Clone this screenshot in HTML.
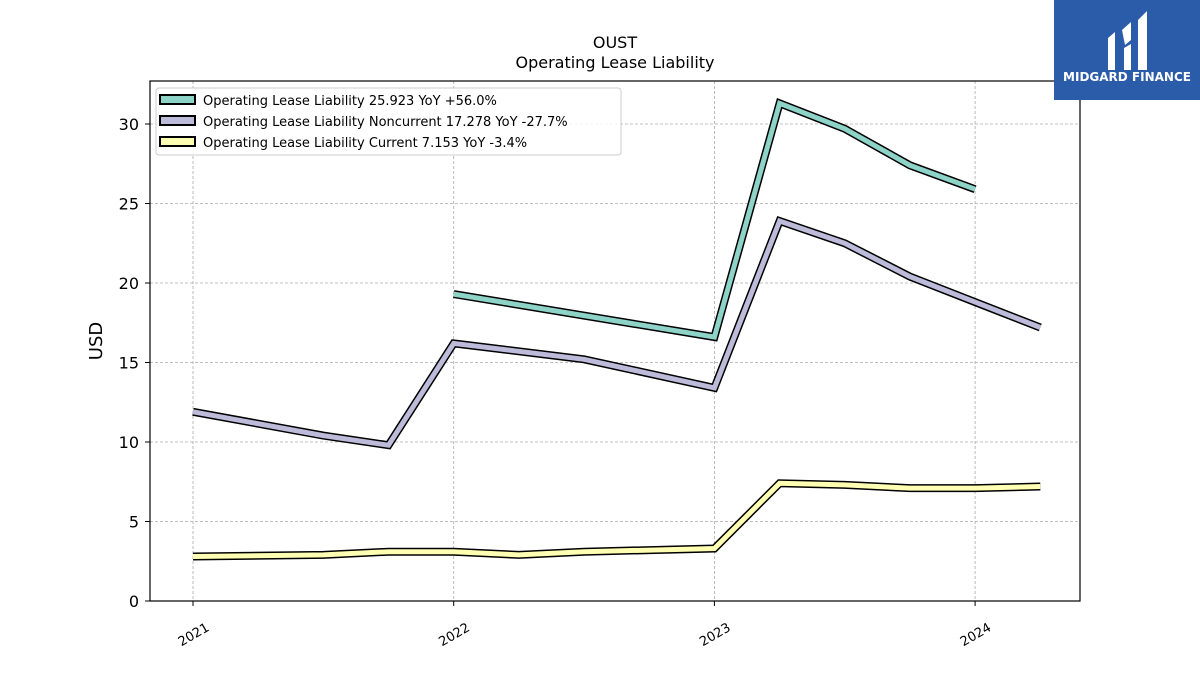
<!DOCTYPE html>
<html><head><meta charset="utf-8"><style>
body{margin:0;background:#fff;width:1200px;height:675px;overflow:hidden;font-family:"Liberation Sans","DejaVu Sans",sans-serif}
</style></head><body>
<svg id="chart" width="1200" height="675" xmlns="http://www.w3.org/2000/svg" font-family="DejaVu Sans, Liberation Sans, sans-serif">
<text x="615" y="48" text-anchor="middle" font-size="16">OUST</text>
<text x="615" y="68" text-anchor="middle" font-size="16">Operating Lease Liability</text>
<g id="grid"></g>
<g id="series"></g>
<rect x="150" y="81" width="930" height="520" fill="none" stroke="#000" stroke-width="1.2"/>
<g id="axes"></g>
<text transform="translate(102,341) rotate(-90)" text-anchor="middle" font-size="18">USD</text>
<g>
<rect x="156" y="88" width="465" height="67" rx="3" fill="#fff" fill-opacity="0.85" stroke="#ccc"/>
<g><rect x="160" y="95" width="35" height="9" fill="#8dd3c7" stroke="#000" stroke-width="2"/><text x="203" y="105" font-size="13">Operating Lease Liability  25.923 YoY +56.0%</text></g>
<g><rect x="160" y="116" width="35" height="9" fill="#bebada" stroke="#000" stroke-width="2"/><text x="203" y="126" font-size="13">Operating Lease Liability Noncurrent  17.278 YoY -27.7%</text></g>
<g><rect x="160" y="137" width="35" height="9" fill="#ffffb3" stroke="#000" stroke-width="2"/><text x="203" y="147" font-size="13">Operating Lease Liability Current  7.153 YoY -3.4%</text></g>
</g>
<g>
<rect x="1054" y="0" width="146" height="100" fill="#2a5caa"/>
<path d="M1108 38 L1115 32 L1115 70 L1108 70 Z M1122 30 L1131 22 L1131 40 L1125 45 Z M1124 48 L1131 44 L1131 70 L1124 70 Z M1138 20 L1147 11 L1147 70 L1138 70 Z" fill="#fff"/>
<text x="1127" y="81" text-anchor="middle" font-size="12" font-weight="bold" fill="#fff">MIDGARD FINANCE</text>
</g>
</svg>
<script>
const yTicks=[0,5,10,15,20,25,30];
const xTickYears=[2021,2022,2023,2024];
const totalX=[2022.0,2023.0,2023.25,2023.5,2023.75,2024.0];
const totalY=[19.3,16.6,31.3,29.7,27.4,25.9];
const noncurX=[2021.0,2021.5,2021.75,2022.0,2022.5,2023.0,2023.25,2023.5,2023.75,2024.0,2024.25];
const noncurY=[11.9,10.4,9.8,16.2,15.2,13.4,23.9,22.5,20.4,18.8,17.2];
const curX=[2021.0,2021.5,2021.75,2022.0,2022.25,2022.5,2023.0,2023.25,2023.5,2023.75,2024.0,2024.25];
const curY=[2.8,2.9,3.1,3.1,2.9,3.1,3.3,7.4,7.3,7.1,7.1,7.2];
const NS="http://www.w3.org/2000/svg";
function xs(v){return 193+(v-2021)*260.7;}
function ys(v){return 601-v*15.9;}
function mk(t,a,p){const e=document.createElementNS(NS,t);for(const k in a)e.setAttribute(k,a[k]);p.appendChild(e);return e;}
const grid=document.getElementById('grid'),axes=document.getElementById('axes'),ser=document.getElementById('series');
yTicks.forEach(v=>{
 const l=mk('line',{x1:150,x2:1080,y1:ys(v),y2:ys(v),stroke:'#aaa','stroke-dasharray':'3,2','stroke-width':0.8},grid);
 
 
 mk('line',{x1:145,x2:150,y1:ys(v),y2:ys(v),stroke:'#000'},axes);
 const t=mk('text',{x:139,y:ys(v)+6,'text-anchor':'end','font-size':16},axes);
 t.textContent=v;
 
 
});
xTickYears.forEach(v=>{
 const x=xs(v);
 const l=mk('line',{x1:x,x2:x,y1:81,y2:601,stroke:'#aaa','stroke-dasharray':'3,2','stroke-width':0.8},grid);
 
 
 mk('line',{x1:x,x2:x,y1:601,y2:606,stroke:'#000'},axes);
 const t=mk('text',{x:x+17,y:630,'text-anchor':'end','font-size':13,transform:`rotate(-30 ${x+17} 630)`},axes);
 t.textContent=v;
 
 
});
function draw(X,Y,color,name){
 const d=X.map((x,i)=>(i?'L':'M')+xs(x).toFixed(1)+' '+ys(Y[i]).toFixed(1)).join(' ');
 const g=mk('g',{},ser);
 
 
 mk('path',{d:d,fill:'none',stroke:'#000','stroke-width':8},g);
 mk('path',{d:d,fill:'none',stroke:color,'stroke-width':5},g);
}
draw(curX,curY,'#ffffb3','series-current');
draw(noncurX,noncurY,'#bebada','series-noncurrent');
draw(totalX,totalY,'#8dd3c7','series-total');
</script>
</body></html>
